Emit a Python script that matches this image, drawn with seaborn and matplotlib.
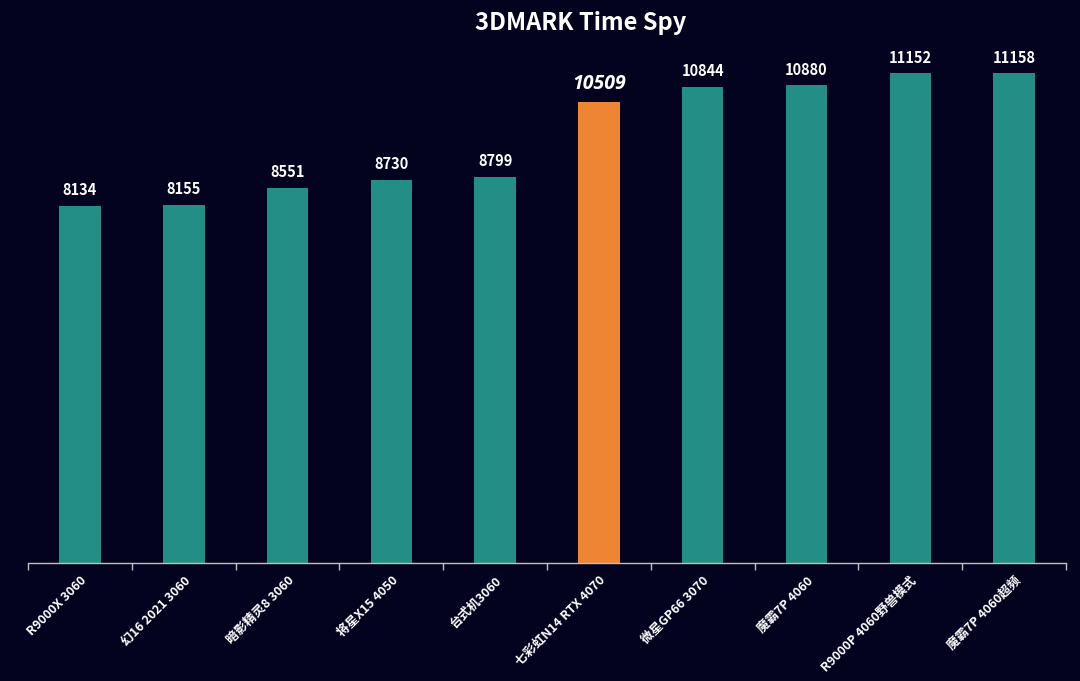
import numpy as np
import pandas as pd
import seaborn as sns
import matplotlib.pyplot as plt

# data
models = ["R9000X 3060", "幻16 2021 3060", "暗影精灵8 3060", "将星X15 4050", "台式机3060",
          "七彩虹N14 RTX 4070", "微星GP66 3070", "魔霸7P 4060", "R9000P 4060野兽模式", "魔霸7P 4060超频"]
scores = [8134, 8155, 8551, 8730, 8799, 10509, 10844, 10880, 11152, 11158]
highlight = "七彩虹N14 RTX 4070"

BG = "#03021F"
TEAL = "#238E85"
ORANGE = "#EE8533"

sns.set_theme(style="white")
plt.rcParams['font.family'] = ['Noto Sans CJK SC', 'DejaVu Sans']

df = pd.DataFrame({"model": models, "score": scores})
df["grp"] = np.where(df["model"] == highlight, "hl", "base")

fig = plt.figure(figsize=(10.8, 6.81), dpi=100, facecolor=BG)
ax = fig.add_axes([0.026, 0.1733, 0.961, 0.7737])
ax.set_facecolor(BG)

sns.barplot(data=df, x="model", y="score", hue="grp", palette={"base": TEAL, "hl": ORANGE},
            dodge=False, width=0.4, legend=False, ax=ax, saturation=1,
            edgecolor="none", linewidth=0)

ax.set_ylim(0, 12000)
ax.set_xlim(-0.5, len(models) - 0.5)
ax.set_xlabel("")
ax.set_ylabel("")
ax.set_yticks([])

for s in ["top", "right", "left"]:
    ax.spines[s].set_visible(False)
ax.spines["bottom"].set_color("#BFBFBF")
ax.spines["bottom"].set_linewidth(1.0)

# tick marks at category boundaries, labels at centres
ax.set_xticks(np.arange(-0.5, len(models)), minor=True)
ax.tick_params(axis="x", which="minor", length=5, color="#BFBFBF", width=1, direction="out", bottom=True)
ax.tick_params(axis="x", which="major", length=0, pad=8, bottom=True)
ax.set_xticks(range(len(models)))
ax.set_xticklabels(models, rotation=45, ha="right", rotation_mode="anchor",
                   color="white", fontsize=9, fontweight="bold")

for i, v in enumerate(scores):
    if models[i] == highlight:
        ax.text(i, v + 170, str(v), ha="center", va="bottom", color="white",
                fontsize=14, fontweight="bold", fontstyle="italic", family="Open Sans")
    else:
        ax.text(i, v + 170, str(v), ha="center", va="bottom", color="white",
                fontsize=10.5, fontweight="bold")

fig.text(0.538, 0.966, "3DMARK Time Spy", ha="center", va="center", color="white",
         fontsize=17, fontweight="bold")

fig.savefig("out.png", dpi=100, facecolor=BG)
